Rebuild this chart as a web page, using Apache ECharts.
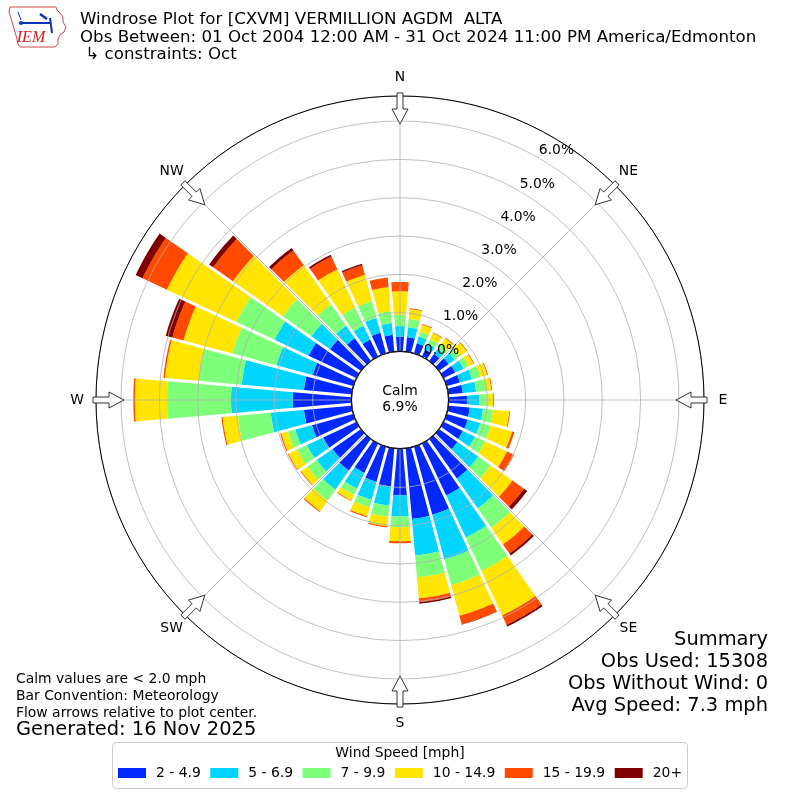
<!DOCTYPE html>
<html><head><meta charset="utf-8">
<script src="https://cdn.jsdelivr.net/npm/echarts@6/dist/echarts.min.js"></script>
<style>html,body{margin:0;padding:0;background:#fff}#c{width:800px;height:800px}</style>
</head><body><div id="c"></div>
<script>
// ---------------- data (percent of observations) ----------------
const directions = [0,10,20,30,40,50,60,70,80,90,100,110,120,130,140,150,160,170,
                    180,190,200,210,220,230,240,250,260,270,280,290,300,310,320,330,340,350];
const speedBins = ['2 - 4.9','5 - 6.9','7 - 9.9','10 - 14.9','15 - 19.9','20+'];
const binColors = ['#0028ff','#00d4ff','#7dff7a','#ffe500','#ff4a00','#800000'];
const spd2to5   = [0.37,0.37,0.26,0.19,0.22,0.30,0.33,0.35,0.37,0.47,0.55,0.56,0.55,0.58,1.25,1.49,1.83,1.84,
                   1.21,0.99,0.94,0.84,1.00,0.90,0.95,1.11,1.24,1.52,1.24,1.09,1.37,0.98,0.72,0.48,0.55,0.43];
const spd5to7   = [0.28,0.26,0.19,0.17,0.16,0.20,0.24,0.33,0.35,0.33,0.35,0.34,0.35,0.66,0.95,1.21,1.21,0.96,
                   0.55,0.50,0.49,0.45,0.60,0.50,0.47,0.45,0.87,1.61,1.63,0.98,0.98,0.59,0.40,0.40,0.40,0.31];
const spd7to10  = [0.30,0.22,0.13,0.13,0.14,0.16,0.15,0.23,0.27,0.20,0.26,0.28,0.29,0.40,0.62,0.96,0.69,0.57,
                   0.28,0.29,0.20,0.18,0.35,0.30,0.28,0.20,0.86,1.67,1.13,1.19,1.10,0.91,0.68,0.52,0.45,0.31];
const spd10to15 = [0.61,0.26,0.19,0.18,0.20,0.22,0.14,0.18,0.13,0.15,0.43,0.58,0.63,0.69,0.53,1.28,0.83,0.55,
                   0.37,0.25,0.24,0.16,0.34,0.20,0.25,0.18,0.40,0.84,0.88,1.32,2.00,1.59,1.24,1.10,0.71,0.63];
const spd15to20 = [0.24,0.02,0.02,0.02,0.02,0.02,0.02,0.02,0.02,0.02,0.02,0.06,0.20,0.37,0.29,0.27,0.23,0.10,
                   0.05,0.03,0.03,0.02,0.03,0.02,0.02,0.03,0.03,0.04,0.04,0.30,0.70,0.63,0.47,0.37,0.26,0.25];
const spd20plus = [0,0,0,0,0,0,0,0,0,0,0,0,0,0.10,0.06,0.05,0.01,0.04,
                   0,0,0,0,0,0,0,0,0,0,0,0.18,0.20,0.13,0.08,0.05,0.04,0];
const radialTicks = [0,1,2,3,4,5,6];
const radialTickLabels = ['0.0%','1.0%','2.0%','3.0%','4.0%','5.0%','6.0%'];
const compassNames  = ['N','NE','E','SE','S','SW','W','NW'];
const compassAngles = [0,45,90,135,180,225,270,315];
const calmLabel = ['Calm','6.9%'];
const titleLines = ['Windrose Plot for [CXVM] VERMILLION AGDM  ALTA',
                    'Obs Between: 01 Oct 2004 12:00 AM - 31 Oct 2024 11:00 PM America/Edmonton',
                    ' \u21b3 constraints: Oct'];
const summaryLines = ['Summary','Obs Used: 15308','Obs Without Wind: 0','Avg Speed: 7.3 mph'];
const noteLines = ['Calm values are < 2.0 mph','Bar Convention: Meteorology','Flow arrows relative to plot center.'];
const generatedLine = 'Generated: 16 Nov 2025';

// ---------------- layout ----------------
const FONT = '"DejaVu Sans", "Liberation Sans", sans-serif';
const CX = 400, CY = 400, R_IN = 49, R_OUT = 304, PX_PER_PCT = 38.33;
const RMAX = (R_OUT - R_IN) / PX_PER_PCT;

const bins = [spd2to5, spd5to7, spd7to10, spd10to15, spd15to20, spd20plus];

function renderBar(params, api) {
  const cs = params.coordSys;
  const top = api.value(0), ang = api.value(1), base = api.value(2);
  const halfGap = 1.5, N = 10;
  const rpx = r => { const p = api.coord([r, ang]); return Math.hypot(p[0]-cs.cx, p[1]-cs.cy); };
  const hw = R => 5 - (halfGap / R) * 180 / Math.PI;
  const h1 = hw(rpx(top)), h0 = hw(rpx(base));
  const pts = [];
  for (let j = 0; j <= N; j++) pts.push(api.coord([top, ang - h1 + 2*h1*j/N]));
  for (let j = N; j >= 0; j--) pts.push(api.coord([base, ang - h0 + 2*h0*j/N]));
  return {type:'polygon', shape:{points:pts}, style:{fill: api.visual('color')}};
}

const series = bins.map((arr, k) => {
  const data = [];
  directions.forEach((d, i) => {
    let base = 0;
    for (let m = 0; m < k; m++) base += bins[m][i];
    if (arr[i] > 0) data.push([base + arr[i], d, base]);
  });
  return {type:'custom', name: speedBins[k], coordinateSystem:'polar', itemStyle:{color: binColors[k]},
          renderItem: renderBar, data, encode:{radius:0, angle:1}, silent:true, z:2};
});
series.push({
  type:'scatter', name:'ticks', coordinateSystem:'polar', symbol:'circle', symbolSize:1,
  itemStyle:{color:'#ffffff', opacity:1}, silent:true, z:120,
  data: radialTicks.map(t => [t, 30]),
  label:{show:true, position:[17.5,-7.1], align:'center', verticalAlign:'middle',
         color:'#000', opacity:1, textBorderWidth:0, fontFamily:FONT, fontSize:13.9,
         formatter: p => radialTickLabels[p.dataIndex]},
  labelLayout:{hideOverlap:false}
});

// ---------------- graphics ----------------
const g = [];
function txt(x, y, text, size, align, extra) {
  g.push(Object.assign({type:'text', x, y, z:100, silent:true,
    style:{text, font: size + 'px ' + FONT, fill:'#000', textAlign:align, align:align,
           textVerticalAlign:'middle', verticalAlign:'middle'}}, extra || {}));
}
// calm circle
g.push({type:'circle', shape:{cx:CX, cy:CY, r:48.5}, style:{fill:'#fff', stroke:'#000', lineWidth:1}, z:100, silent:true});
txt(CX, 391, calmLabel[0], 13.9, 'center');
txt(CX, 407.5, calmLabel[1], 13.9, 'center');
// compass labels and flow arrows
compassAngles.forEach((a, i) => {
  const t = a * Math.PI / 180, s = Math.sin(t), c = Math.cos(t);
  txt(CX + 323 * s, CY - 323 * c, compassNames[i], 13.9, 'center');
  const local = [[-3,307],[3,307],[3,291],[8,291],[0,276],[-8,291],[-3,291]];
  const pts = local.map(([u, r]) => [CX + r * s + u * c, CY - r * c + u * s]);
  g.push({type:'polygon', shape:{points:pts}, style:{fill:'#fff', stroke:'#333', lineWidth:1}, z:100, silent:true});
});
// title
titleLines.forEach((t, i) => txt(80, [20, 38, 55][i], t, 16.67, 'left'));
// summary
summaryLines.forEach((t, i) => txt(768, 640 + 22 * i, t, 19.44, 'right'));
// notes
noteLines.forEach((t, i) => txt(16, 679 + 17 * i, t, 13.9, 'left'));
txt(16, 730, generatedLine, 19.44, 'left');
// legend frame and title
g.push({type:'rect', shape:{x:112.5, y:742.5, width:575, height:46, r:4},
        style:{fill:'#fff', stroke:'#cccccc', lineWidth:1}, z:1, silent:true});
txt(400, 753.5, 'Wind Speed [mph]', 13.9, 'center');
// IEM logo
g.push({type:'polyline', shape:{points:[[10,7],[56,7],[57,10],[60,13],[63,17],[63,22],[66,27],[64,32],[60,35],
        [58,39],[58,44],[55,47],[20,47],[18,44],[17,39],[15,32],[13,25],[11,18],[9,12],[10,7]]},
        style:{stroke:'#d04848', lineWidth:1, fill:null}, z:100, silent:true});
g.push({type:'line', shape:{x1:21, y1:23, x2:50, y2:23}, style:{stroke:'#1030c0', lineWidth:2}, z:100, silent:true});
g.push({type:'line', shape:{x1:50, y1:18, x2:52, y2:33}, style:{stroke:'#1030c0', lineWidth:2}, z:100, silent:true});
g.push({type:'line', shape:{x1:40, y1:14, x2:47, y2:19}, style:{stroke:'#1030c0', lineWidth:2.5}, z:100, silent:true});
g.push({type:'line', shape:{x1:18, y1:12, x2:21, y2:20}, style:{stroke:'#1030c0', lineWidth:1}, z:100, silent:true});
g.push({type:'circle', shape:{cx:21, cy:23, r:2}, style:{fill:'#1030c0'}, z:100, silent:true});
g.push({type:'text', x:31, y:38, z:100, silent:true,
        style:{text:'IEM', font:'italic 16px "Liberation Serif", serif', fill:'#cc2222',
               textAlign:'center', align:'center', textVerticalAlign:'middle', verticalAlign:'middle'}});

const chart = echarts.init(document.getElementById('c'), null, {renderer:'canvas'});
chart.setOption({
  animation:false,
  backgroundColor:'#fff',
  polar:{center:[CX, CY], radius:[R_IN, R_OUT]},
  angleAxis:{type:'value', min:0, max:360, interval:45, startAngle:90, clockwise:true, z:10,
    axisLine:{show:true, lineStyle:{color:'#000', width:1}}, axisTick:{show:false}, axisLabel:{show:false},
    splitLine:{show:true, lineStyle:{color:'#b0b0b0', width:0.8}}},
  radiusAxis:{type:'value', min:0, max:RMAX, interval:1, z:10,
    axisLine:{show:false}, axisTick:{show:false}, axisLabel:{show:false},
    splitLine:{show:true, lineStyle:{color:'#b0b0b0', width:0.8}}},
  legend:{data:speedBins, left:118, top:766, itemWidth:28, itemHeight:10, itemGap:9.5, padding:0,
    icon:'rect', selectedMode:false, z:10,
    textStyle:{fontFamily:FONT, fontSize:13.9, color:'#000', padding:[0,0,0,5]}},
  graphic: g,
  series
});
</script></body></html>
